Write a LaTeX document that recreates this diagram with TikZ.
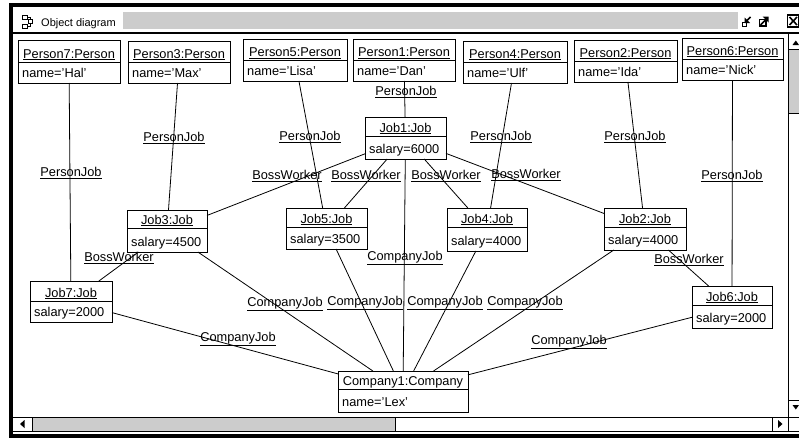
\documentclass[tikz,border=0pt]{standalone}
\usepackage{fontspec}
\setmainfont{Liberation Sans}
\newcommand\objbox[8]{%
  \node[obj, minimum width={#4-#2}, minimum height={#5-#3}] (#1) at ({(#2+#4)/2},{(#3+#5)/2}) {};
  \draw[divl] (#2,#6) -- (#4,#6);
  \node[ttl] (#1t) at ({(#2+#4)/2},{#6-4}) {\underline{#7}};
  \node[att] (#1a) at ({#2+4},{#5-5.5}) {#8};
}
\tikzset{
  obj/.style={draw, line width=0.9pt, inner sep=0pt, outer sep=0pt},
  ttl/.style={font=\fontsize{12.8}{14}\selectfont, anchor=base, inner sep=0pt},
  att/.style={font=\fontsize{12.8}{14}\selectfont, anchor=base west, inner sep=0pt},
  lbl/.style={font=\fontsize{12.8}{14}\selectfont, anchor=base, inner sep=0pt},
  conn/.style={line width=0.8pt},
  divl/.style={line width=0.9pt},
  stipple/.style={fill=black!20},
  chrome/.style={line width=0.9pt},
}
\begin{document}
\begin{tikzpicture}[x=1pt,y=-1pt]
\useasboundingbox (0,0) rectangle (799,439);
\fill[white] (0,0) rectangle (799,439);
% window frame
\fill[black] (9,3) rectangle (799,438);
\fill[white] (13,6.5) rectangle (799,434);
% title bar
\draw[line width=1.4pt] (13,32.8) -- (799,32.8);
\draw[line width=0.8pt] (22,15) rectangle (27,19);
\draw[line width=0.8pt] (22,24) rectangle (27,28);
\draw[line width=0.8pt] (28.5,19.5) rectangle (32.5,23.5);
\draw[line width=0.8pt] (27,17) -- (30.5,17) -- (30.5,19.5);
\draw[line width=0.8pt] (27,26) -- (30.5,26) -- (30.5,23.5);
\node[font=\fontsize{11}{12}\selectfont, anchor=base west, inner sep=0pt] (ttlbar) at (41,26.5) {Object diagram};
\fill[stipple] (123,12) rectangle (738,29);
% minimize icon
\fill[black] (741.5,21.5) rectangle (747,27);
\fill[white] (743,23) rectangle (745.5,25.5);
\draw[line width=1.6pt] (750.5,17) -- (746.5,21);
\fill[black] (744.5,17.5) -- (744.5,23) -- (750,23) -- cycle;
% maximize icon
\draw[line width=1.6pt] (759.5,19.5) rectangle (766,26);
\draw[line width=1.6pt] (760.5,25) -- (767,18.5);
\fill[black] (768.5,16.5) -- (762.5,16.5) -- (768.5,22.5) -- cycle;
% close box
\draw[line width=1.2pt] (787.5,15) rectangle (799,27);
\draw[line width=1.6pt] (789.5,17) -- (797,25) (789.5,25) -- (797,17);
% vertical scrollbar
\draw[chrome] (788.5,33) -- (788.5,417);
\fill[black] (792.5,45) -- (799,45) -- (795.8,40.5) -- cycle;
\draw[chrome] (788.5,49.5) -- (799,49.5);
\fill[stipple] (789,50) rectangle (799,113);
\draw[chrome] (788.5,113) -- (799,113);
\draw[chrome] (788.5,400.5) -- (799,400.5);
\fill[black] (792.5,405) -- (799,405) -- (795.8,409.5) -- cycle;
% horizontal scrollbar
\draw[chrome] (13,417) -- (799,417);
\draw[chrome] (13,431) -- (799,431);
\fill[black] (20,424) -- (24.5,420) -- (24.5,428) -- cycle;
\draw[chrome] (32.5,417) -- (32.5,431);
\fill[stipple] (33,417.5) rectangle (395,430.5);
\draw[chrome] (395,417) -- (395,431);
\draw[chrome] (772,417) -- (772,431);
\fill[black] (782.5,424) -- (778,420) -- (778,428) -- cycle;
\draw[chrome] (788.5,417) -- (788.5,431);
% objects
\objbox{p7}{18}{40}{120}{83}{62}{Person7:Person}{name='Hal'}
\objbox{p3}{128}{41}{230}{83}{62}{Person3:Person}{name='Max'}
\objbox{p5}{243}{39}{347}{81}{60.5}{Person5:Person}{name='Lisa'}
\objbox{p1}{353}{39}{455}{81}{60.5}{Person1:Person}{name='Dan'}
\objbox{p4}{463}{41}{567}{83}{62}{Person4:Person}{name='Ulf'}
\objbox{p2}{574}{40}{677}{82}{61}{Person2:Person}{name='Ida'}
\objbox{p6}{682}{38}{783}{80}{59}{Person6:Person}{name='Nick'}
\objbox{j1}{365}{117}{446}{159}{136}{Job1:Job}{salary=6000}
\objbox{j3}{127}{210}{207}{252}{228}{Job3:Job}{salary=4500}
\objbox{j5}{286}{208}{367}{249}{227}{Job5:Job}{salary=3500}
\objbox{j4}{447}{208}{527}{251}{227}{Job4:Job}{salary=4000}
\objbox{j2}{604}{208}{686}{250}{227}{Job2:Job}{salary=4000}
\objbox{j7}{30}{281}{112}{322}{301}{Job7:Job}{salary=2000}
\objbox{j6}{692}{286}{772}{328}{305}{Job6:Job}{salary=2000}
\objbox{c1}{338}{371}{468}{412}{389}{Company1:Company}{name='Lex'}
% connectors
\draw[conn] (p7) -- (j7);
\draw[conn] (p3) -- (j3);
\draw[conn] (p5) -- (j5);
\draw[conn] (p1) -- (j1);
\draw[conn] (p4) -- (j4);
\draw[conn] (p2) -- (j2);
\draw[conn] (p6) -- (j6);
\draw[conn] (j1) -- (j3);
\draw[conn] (j1) -- (j5);
\draw[conn] (j1) -- (j4);
\draw[conn] (j1) -- (j2);
\draw[conn] (j3) -- (j7);
\draw[conn] (j2) -- (j6);
\draw[conn] (j1) -- (c1);
\draw[conn] (j3) -- (c1);
\draw[conn] (j5) -- (c1);
\draw[conn] (j4) -- (c1);
\draw[conn] (j2) -- (c1);
\draw[conn] (j7) -- (c1);
\draw[conn] (j6) -- (c1);
% labels
\node[lbl] (l1) at (71,176.5) {\underline{PersonJob}};
\node[lbl] (l2) at (174,141.5) {\underline{PersonJob}};
\node[lbl] (l3) at (310,140.5) {\underline{PersonJob}};
\node[lbl] (l4) at (406,95.5) {\underline{PersonJob}};
\node[lbl] (l5) at (501,140.5) {\underline{PersonJob}};
\node[lbl] (l6) at (635,140.5) {\underline{PersonJob}};
\node[lbl] (l7) at (732,179.5) {\underline{PersonJob}};
\node[lbl] (l8) at (287,179.5) {\underline{BossWorker}};
\node[lbl] (l9) at (366,179.5) {\underline{BossWorker}};
\node[lbl] (l10) at (446,179.5) {\underline{BossWorker}};
\node[lbl] (l11) at (526,178.5) {\underline{BossWorker}};
\node[lbl] (l12) at (119,261.5) {\underline{BossWorker}};
\node[lbl] (l13) at (689,263.5) {\underline{BossWorker}};
\node[lbl] (l14) at (405,260.5) {\underline{CompanyJob}};
\node[lbl] (l15) at (285,306.5) {\underline{CompanyJob}};
\node[lbl] (l16) at (365,305.5) {\underline{CompanyJob}};
\node[lbl] (l17) at (445,305.5) {\underline{CompanyJob}};
\node[lbl] (l18) at (525,305.5) {\underline{CompanyJob}};
\node[lbl] (l19) at (238,341.5) {\underline{CompanyJob}};
\node[lbl] (l20) at (569,344.5) {\underline{CompanyJob}};
\end{tikzpicture}
\end{document}
